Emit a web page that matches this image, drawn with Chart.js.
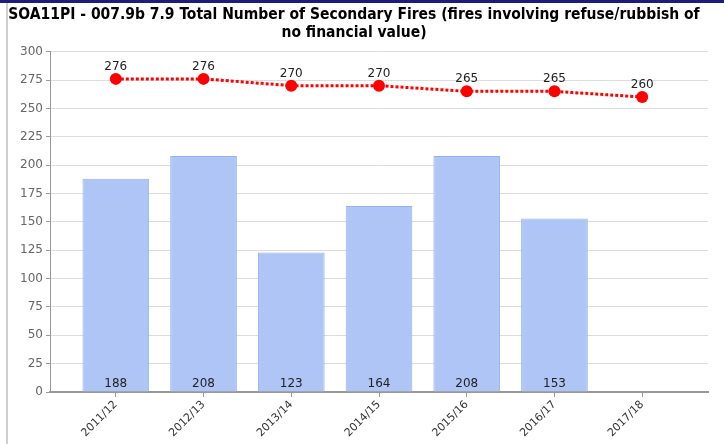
<!DOCTYPE html>
<html>
<head>
<meta charset="utf-8">
<script src="https://cdn.jsdelivr.net/npm/chart.js@4.4.1/dist/chart.umd.min.js"></script>
<style>
  html, body { margin: 0; padding: 0; background: #fff; }
  #wrap { position: relative; width: 724px; height: 444px; overflow: hidden; }
  #topBar { position: absolute; left: 0; top: 0; width: 724px; height: 3px; background: #1c1c7c; }
  #leftBar { position: absolute; left: 6px; top: 3px; width: 2px; height: 441px; background: #cfcfcf; }
  #chartSecondaryFires { position: absolute; left: 0; top: 0; }
</style>
</head>
<body>
<div id="wrap">
  <div id="topBar"></div>
  <div id="leftBar"></div>
  <canvas id="chartSecondaryFires" width="724" height="444"></canvas>
</div>
<script>
/** Financial years on the x axis */
const years = ['2011/12', '2012/13', '2013/14', '2014/15', '2015/16', '2016/17', '2017/18'];
/** Actual number of secondary fires per year (no figure yet for 2017/18) */
const actualFires = [188, 208, 123, 164, 208, 153, null];
/** Target line per year */
const targetFires = [276, 276, 270, 270, 265, 265, 260];
/** Y axis tick range */
const yTicks = { min: 0, max: 300, step: 25 };

const titleLines = [
    'SOA11PI - 007.9b 7.9 Total Number of Secondary Fires (fires involving refuse/rubbish of',
    'no financial value)'
];

/**
 * Write the values on the chart: bars get theirs at the foot of the bar,
 * target points get theirs just above the dot
 */
const valueLabels = {
    id: 'valueLabels',
    afterDatasetsDraw(chart) {
        const ctx = chart.ctx;
        const yScale = chart.scales.y;
        ctx.save();
        ctx.font = '12px "DejaVu Sans", sans-serif';
        ctx.fillStyle = '#222';
        ctx.textAlign = 'center';
        ctx.textBaseline = 'alphabetic';
        chart.data.datasets.forEach((ds, i) => {
            const meta = chart.getDatasetMeta(i);
            meta.data.forEach((el, j) => {
                const v = ds.data[j].y;
                if (v === null || v === undefined) return;
                if (ds.type === 'bar') {
                    ctx.fillText(String(v), el.x, yScale.getPixelForValue(0) - 5);
                } else {
                    ctx.fillText(String(v), el.x, el.y - 9);
                }
            });
        });
        ctx.restore();
    }
};

const _chartSecondaryFires = document.getElementById('chartSecondaryFires');

new Chart(_chartSecondaryFires, {
    data: {
        datasets: [
            {
                type: 'line',
                label: 'Target',
                data: targetFires.map((v, i) => ({ x: i, y: v })),
                borderColor: '#ff0000',
                backgroundColor: '#ff0000',
                borderWidth: 3,
                borderDash: [3, 2],
                pointRadius: 6,
                pointHoverRadius: 6,
                pointBorderWidth: 0,
                fill: false,
                tension: 0,
                order: 0
            },
            {
                type: 'bar',
                label: 'Actual',
                data: actualFires.map((v, i) => ({ x: i, y: v })),
                backgroundColor: 'rgb(174, 197, 245)',
                borderColor: 'rgb(146, 178, 240)',
                borderWidth: 1,
                barPercentage: 0.76,
                categoryPercentage: 1,
                order: 1
            }
        ]
    },
    options: {
        responsive: false,
        animation: false,
        layout: { padding: { left: 0, right: 16, top: 0, bottom: 0 } },
        plugins: {
            legend: { display: false },
            tooltip: { enabled: false },
            title: {
                display: true,
                text: titleLines,
                color: '#000',
                font: { family: '"DejaVu Sans Condensed", "DejaVu Sans", sans-serif', size: 15.5, weight: 'bold', lineHeight: 1.15 },
                padding: { top: 6, bottom: 10 }
            }
        },
        scales: {
            x: {
                type: 'linear',
                offset: false,
                min: -0.75,
                max: 6.75,
                afterFit(scale) { scale.height = 52; },
                ticks: {
                    stepSize: 1,
                    includeBounds: false,
                    autoSkip: false,
                    minRotation: 45,
                    maxRotation: 45,
                    color: '#333',
                    font: { family: '"DejaVu Sans", sans-serif', size: 11 },
                    padding: 1,
                    callback: (v) => Number.isInteger(v) ? years[v] : ''
                },
                grid: { offset: false, drawOnChartArea: false, drawTicks: true, tickLength: 5, tickColor: '#999' },
                border: { color: '#999', width: 2 }
            },
            y: {
                min: yTicks.min,
                max: yTicks.max,
                afterFit(scale) { scale.width = 50; },
                ticks: {
                    stepSize: yTicks.step,
                    color: '#666',
                    font: { family: '"DejaVu Sans", sans-serif', size: 12 },
                    padding: 3
                },
                grid: { color: '#dcdcdc', lineWidth: 1, tickLength: 4, tickColor: '#999' },
                border: { color: '#999', width: 1 }
            }
        }
    },
    plugins: [valueLabels]
});
</script>
</body>
</html>
